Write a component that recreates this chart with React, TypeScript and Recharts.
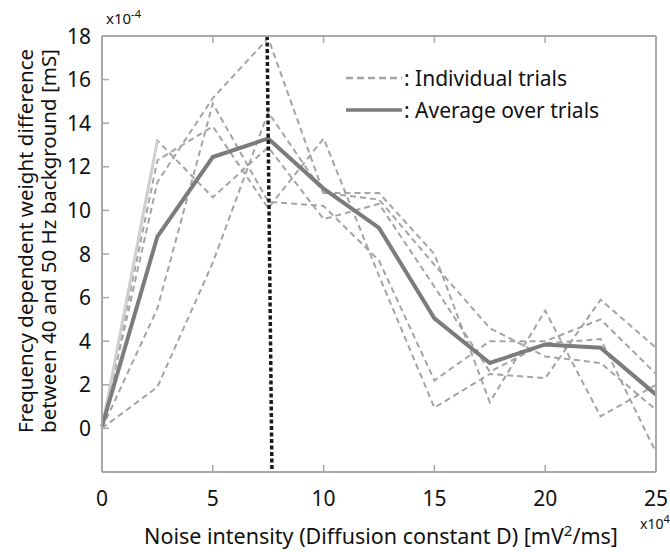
import React from 'react';
import { LineChart, Line, XAxis, YAxis, ReferenceLine, Legend, Label } from 'recharts';

// noise intensity D (x10^4 mV^2/ms)
const noise = [0, 2.5, 5, 7.5, 10, 12.5, 15, 17.5, 20, 22.5, 25];

// weight difference (x10^-4 mS), one array per trial
const trialA = [0, 13.2, 10.6, 12.9, 9.6, 10.3, 6.5, 2.6, 3.9, 4.1, -1.1];
const trialB = [0, 12.3, 13.85, 10.1, 13.3, 7.0, 0.95, 2.5, 2.3, 5.9, 3.7];
const trialC = [0, 11.3, 15.15, 17.9, 10.8, 10.8, 8.0, 1.2, 5.4, 0.55, 2.0];
const trialD = [0, 5.5, 14.9, 10.4, 10.2, 7.7, 2.2, 4.0, 4.0, 5.0, 2.5];
const trialE = [0, 1.9, 7.6, 14.5, 10.8, 10.5, 7.5, 4.6, 3.3, 3.0, 0.85];
const average = [0.1, 8.8, 12.45, 13.3, 11.0, 9.2, 5.05, 3.0, 3.85, 3.7, 1.55];
// the first segment of trial A is drawn faint in the original
const firstRise = [0, 13.2, null, null, null, null, null, null, null, null, null];

const xTicks = [0, 5, 10, 15, 20, 25];
const xInnerTicks = [5, 10, 15, 20];
const yTicks = [0, 2, 4, 6, 8, 10, 12, 14, 16, 18];
// optimum marker (slightly slanted in the scan): top and bottom D
const markerTop = 7.45;
const markerBottom = 7.67;

const data = noise.map((d, i) => ({
  d,
  a: trialA[i],
  b: trialB[i],
  c: trialC[i],
  e: trialD[i],
  f: trialE[i],
  avg: average[i],
  rise: firstRise[i],
}));

const font = '"Noto Sans", sans-serif';
const frame = '#a8a8a8';
const trialColor = '#a4a4a4';
const avgColor = '#7c7c7c';

const LeftTick = (props: any) => {
  const { x, y, payload } = props;
  return (
    <g>
      <line x1={x} x2={x + 7} y1={y} y2={y} stroke={frame} strokeWidth={1.5} />
      <text x={x - 11} y={y} dy="0.36em" textAnchor="end" fontSize={21} fontFamily={font} fill="#111">
        {payload.value}
      </text>
    </g>
  );
};

const RightTick = (props: any) => {
  const { x, y } = props;
  return <line x1={x} x2={x - 7} y1={y} y2={y} stroke={frame} strokeWidth={1.5} />;
};

const BottomTick = (props: any) => {
  const { x, y, payload } = props;
  const inner = payload.value > 0 && payload.value < 25;
  return (
    <g>
      {inner && <line x1={x} x2={x} y1={y} y2={y - 7} stroke={frame} strokeWidth={1.5} />}
      <text x={x} y={y + 34} textAnchor="middle" fontSize={21} fontFamily={font} fill="#111">
        {payload.value}
      </text>
    </g>
  );
};

const TopTick = (props: any) => {
  const { x, y } = props;
  return <line x1={x} x2={x} y1={y} y2={y + 7} stroke={frame} strokeWidth={1.5} />;
};

const YTitle = (props: any) => {
  const vb = props.viewBox;
  const cy = vb.y + vb.height / 2 - 13;
  return (
    <g fontFamily={font} fontSize={20.5} fill="#111">
      <text x={25} y={cy} textAnchor="middle" dominantBaseline="central" transform={`rotate(-90 25 ${cy})`}>
        Frequency dependent weight difference
      </text>
      <text x={48} y={cy} textAnchor="middle" dominantBaseline="central" transform={`rotate(-90 48 ${cy})`}>
        between 40 and 50 Hz background [mS]
      </text>
    </g>
  );
};

const XTitle = (props: any) => {
  const vb = props.viewBox;
  return (
    <g fontFamily={font} fill="#111">
      <text x={vb.x + vb.width / 2 + 2} y={vb.y + 72} textAnchor="middle" fontSize={21.5}>
        Noise intensity (Diffusion constant D) [mV
        <tspan dy={-8} fontSize={15}>2</tspan>
        <tspan dy={8}>/ms]</tspan>
      </text>
      <text x={vb.x + vb.width - 16} y={vb.y + 57} fontSize={14}>
        x10<tspan dy={-6} fontSize={11}>4</tspan>
      </text>
    </g>
  );
};

const TopExponent = (props: any) => {
  const vb = props.viewBox;
  return (
    <text x={vb.x + 4} y={vb.y + 24} fontFamily={font} fontSize={15} fill="#111">
      x10<tspan dy={-6} fontSize={11}>-4</tspan>
    </text>
  );
};

const LegendBox = () => (
  <div style={{ fontFamily: font, fontSize: 21, color: '#111', lineHeight: '32px' }}>
    <div style={{ display: 'flex', alignItems: 'center' }}>
      <svg width={56} height={12}>
        <line x1={0} x2={56} y1={6} y2={6} stroke={trialColor} strokeWidth={2.5} strokeDasharray="7 4" />
      </svg>
      <span style={{ marginLeft: 2 }}>: Individual trials</span>
    </div>
    <div style={{ display: 'flex', alignItems: 'center' }}>
      <svg width={56} height={12}>
        <line x1={0} x2={56} y1={6} y2={6} stroke={avgColor} strokeWidth={3.5} />
      </svg>
      <span style={{ marginLeft: 2 }}>: Average over trials</span>
    </div>
  </div>
);

export default function App() {
  const trialKeys = ['a', 'b', 'c', 'e', 'f'];
  return (
    <div style={{ position: 'absolute', left: 0, top: 0, background: '#fff' }}>
      <LineChart width={670} height={552} data={data} margin={{ top: 0, right: 0, bottom: 0, left: 0 }}>
        <XAxis
          xAxisId="b"
          dataKey="d"
          type="number"
          domain={[0, 25]}
          ticks={xTicks}
          interval={0}
          height={80}
          tickSize={0}
          tickMargin={0}
          tickLine={false}
          axisLine={{ stroke: frame, strokeWidth: 2 }}
          tick={<BottomTick />}
        >
          <Label content={<XTitle />} />
        </XAxis>
        <XAxis
          xAxisId="t"
          dataKey="d"
          orientation="top"
          type="number"
          domain={[0, 25]}
          ticks={xInnerTicks}
          interval={0}
          height={36}
          tickSize={0}
          tickMargin={0}
          tickLine={false}
          axisLine={{ stroke: frame, strokeWidth: 2 }}
          tick={<TopTick />}
        >
          <Label content={<TopExponent />} />
        </XAxis>
        <YAxis
          yAxisId="l"
          type="number"
          domain={[-2, 18]}
          ticks={yTicks}
          interval={0}
          width={102}
          tickSize={0}
          tickMargin={0}
          tickLine={false}
          axisLine={{ stroke: frame, strokeWidth: 2 }}
          tick={<LeftTick />}
        >
          <Label content={<YTitle />} />
        </YAxis>
        <YAxis
          yAxisId="r"
          orientation="right"
          type="number"
          domain={[-2, 18]}
          ticks={yTicks}
          interval={0}
          width={14}
          tickSize={0}
          tickMargin={0}
          tickLine={false}
          axisLine={{ stroke: frame, strokeWidth: 2 }}
          tick={<RightTick />}
        />
        <Legend
          layout="vertical"
          align="center"
          verticalAlign="middle"
          content={<LegendBox />}
          wrapperStyle={{ position: 'absolute', left: 346, top: 62, width: 'auto' }}
        />
        {trialKeys.map((k) => (
          <Line
            key={k}
            xAxisId="b"
            yAxisId="l"
            dataKey={k}
            stroke={trialColor}
            strokeWidth={2}
            strokeDasharray="6 4"
            dot={false}
            isAnimationActive={false}
          />
        ))}
        <Line
          xAxisId="b"
          yAxisId="l"
          dataKey="rise"
          stroke="#cfcfcf"
          strokeWidth={3}
          dot={false}
          connectNulls={false}
          isAnimationActive={false}
        />
        <Line
          xAxisId="b"
          yAxisId="l"
          dataKey="avg"
          stroke={avgColor}
          strokeWidth={4}
          dot={false}
          isAnimationActive={false}
        />
        <ReferenceLine
          xAxisId="b"
          yAxisId="l"
          segment={[
            { x: markerTop, y: 18 },
            { x: markerBottom, y: -2 },
          ]}
          stroke="#1a1a1a"
          strokeWidth={3.5}
          strokeDasharray="4 2.5"
        />
      </LineChart>
    </div>
  );
}
